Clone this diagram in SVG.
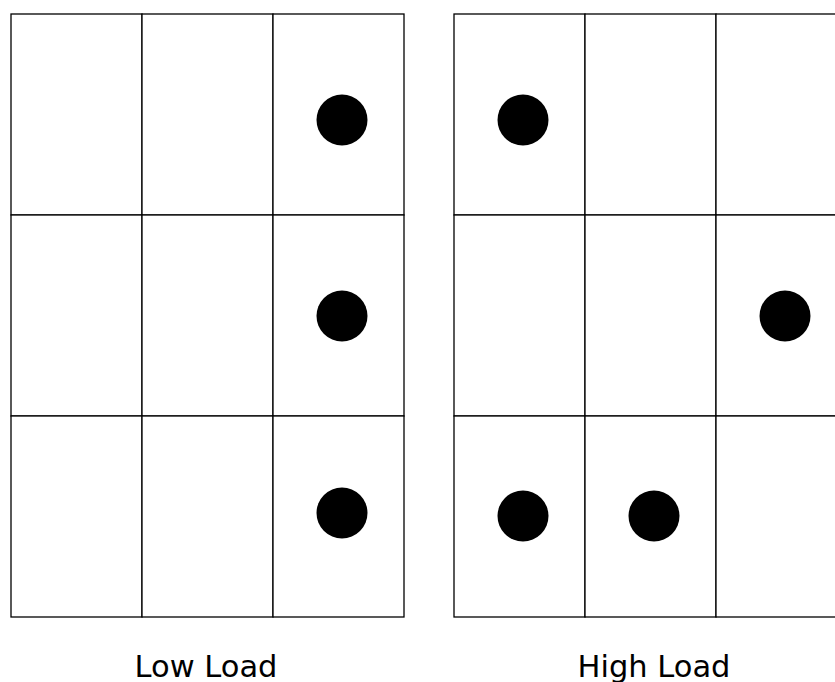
<svg xmlns="http://www.w3.org/2000/svg" width="835" height="682" viewBox="0 0 835 682">
<style>
.cell{fill:#fff;stroke:#000;stroke-width:1.3}
.dot{fill:#000}
.lbl{font-family:"DejaVu Sans",sans-serif;font-size:30.5px;fill:#000;text-anchor:middle}
</style>
<rect width="835" height="682" fill="#fff"/>
<g id="low-load">
<g id="low-grid">
<rect class="cell" x="11" y="14" width="131" height="201"/>
<rect class="cell" x="142" y="14" width="131" height="201"/>
<rect class="cell" x="273" y="14" width="131" height="201"/>
<rect class="cell" x="11" y="215" width="131" height="201"/>
<rect class="cell" x="142" y="215" width="131" height="201"/>
<rect class="cell" x="273" y="215" width="131" height="201"/>
<rect class="cell" x="11" y="416" width="131" height="201"/>
<rect class="cell" x="142" y="416" width="131" height="201"/>
<rect class="cell" x="273" y="416" width="131" height="201"/>
</g>
<circle class="dot" cx="342" cy="120" r="25.5"/>
<circle class="dot" cx="342" cy="316" r="25.5"/>
<circle class="dot" cx="342" cy="513" r="25.5"/>
<text class="lbl" x="206" y="677">Low Load</text>
</g>
<g id="high-load">
<g id="high-grid">
<rect class="cell" x="454" y="14" width="131" height="201"/>
<rect class="cell" x="585" y="14" width="131" height="201"/>
<rect class="cell" x="716" y="14" width="131" height="201"/>
<rect class="cell" x="454" y="215" width="131" height="201"/>
<rect class="cell" x="585" y="215" width="131" height="201"/>
<rect class="cell" x="716" y="215" width="131" height="201"/>
<rect class="cell" x="454" y="416" width="131" height="201"/>
<rect class="cell" x="585" y="416" width="131" height="201"/>
<rect class="cell" x="716" y="416" width="131" height="201"/>
</g>
<circle class="dot" cx="523" cy="120" r="25.5"/>
<circle class="dot" cx="785" cy="316" r="25.5"/>
<circle class="dot" cx="523" cy="516" r="25.5"/>
<circle class="dot" cx="654" cy="516" r="25.5"/>
<text class="lbl" x="654" y="677">High Load</text>
</g>
</svg>
